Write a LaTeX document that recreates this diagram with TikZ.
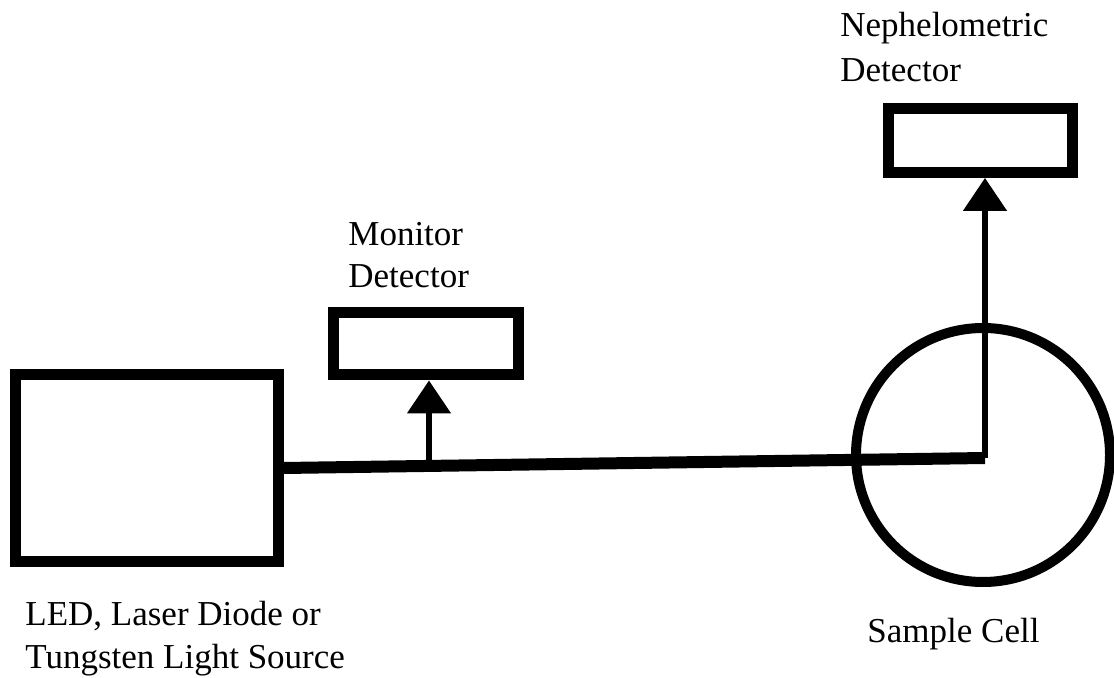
\documentclass[tikz,border=0pt]{standalone}
\usepackage{fontspec}
\setmainfont{Liberation Serif}
\usetikzlibrary{arrows.meta}

\begin{document}
\begin{tikzpicture}[x=0.5pt,y=-0.5pt,
 box/.style={draw, line width=5.5pt, inner sep=0pt},
 cell/.style={circle, draw, line width=5pt, inner sep=0pt, minimum size=127pt},
 beam/.style={line width=6pt},
 ray/.style={line width=2.6pt, -{Triangle[width=21.5pt,length=16.5pt]}},
 lbl/.style={align=left, inner sep=0pt, anchor=base west, font=\fontsize{17.5}{21}\selectfont}]
  \useasboundingbox (0,0) rectangle (1114,678);

  \node[box, minimum width=131.5pt, minimum height=93pt] (src) at (146.5,468) {};
  \node[box, minimum width=92.5pt, minimum height=31pt] (mon) at (425.5,344) {};
  \node[box, minimum width=92pt, minimum height=32pt] (neph) at (980.5,140.5) {};
  \node[cell] (cell) at (983,455) {};

  \coordinate (tap) at (429,464);
  \coordinate (bend) at (985,458);

  \draw[beam] (src.east) -- (bend);
  \foreach \s/\t in {tap/mon, bend/neph} {
   \draw[ray] (\s) -- (\s |- \t.south);}

  % base anchor sits on the last line
  \node[lbl] (srclbl) at (25,668) {LED, Laser Diode or\\Tungsten Light Source};
  \node[lbl] (monlbl) at (348,288) {Monitor\\Detector};
  \node[lbl, font=\fontsize{17.5}{22.5}\selectfont] (nephlbl) at (840,82) {Nephelometric\\Detector};
  \node[lbl] (celllbl) at (867,642) {Sample Cell};
\end{tikzpicture}
\end{document}
